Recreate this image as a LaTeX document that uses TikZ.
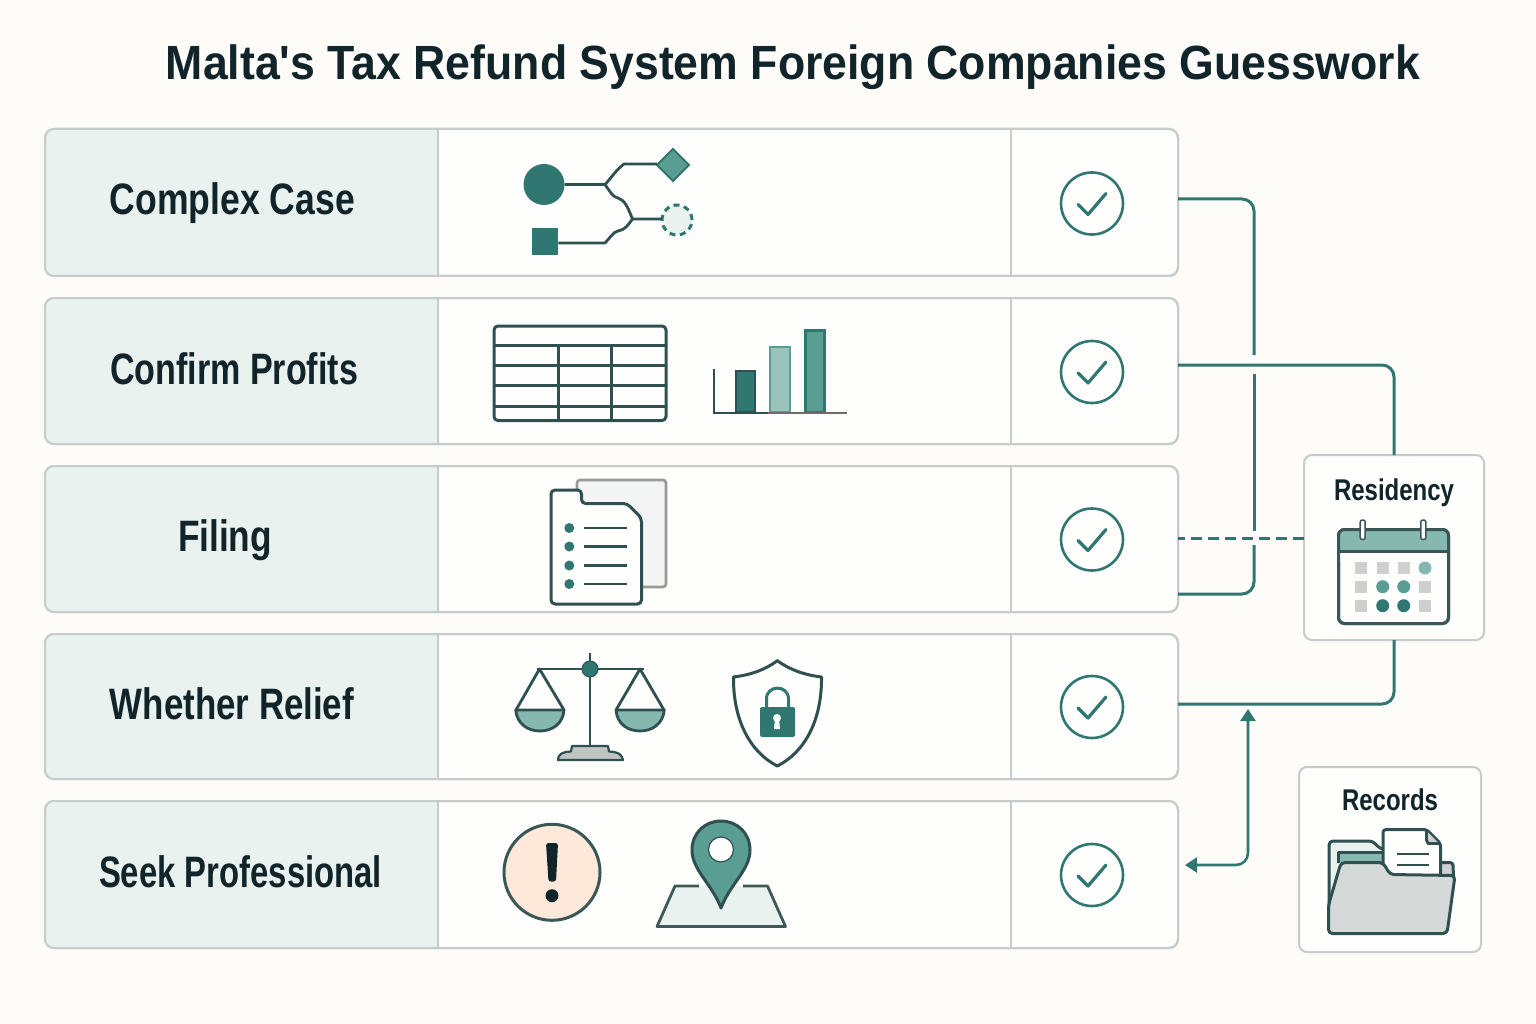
\documentclass[tikz,border=0pt]{standalone}
\usepackage{fontspec}
\usepackage{graphicx}
\usetikzlibrary{arrows.meta,shapes.geometric,calc}
\newfontfamily\hv{Liberation Sans}
\setmainfont{Liberation Sans}
\definecolor{bgc}{HTML}{FDFCF9}
\definecolor{cellc}{HTML}{FEFEFC}
\definecolor{mintc}{HTML}{E9F2EF}
\definecolor{edgec}{HTML}{C6CCCA}
\definecolor{tealc}{HTML}{2F7770}
\definecolor{midc}{HTML}{5A9E93}
\definecolor{lightc}{HTML}{85B9B0}
\definecolor{paleC}{HTML}{9AC4BB}
\definecolor{inkc}{HTML}{2F4F50}
\definecolor{textc}{HTML}{10242A}
\definecolor{grayc}{HTML}{CDD0CE}
\definecolor{peachc}{HTML}{FDE8D9}
\definecolor{sheetc}{HTML}{F3F5F4}
\tikzset{
  rowbox/.style={draw=edgec,line width=2pt,fill=cellc,rounded corners=9pt,minimum width=1133pt,inner sep=0pt,outer sep=0pt},
  sidebox/.style={draw=edgec,line width=2pt,fill=cellc,rounded corners=8pt,inner sep=0pt,outer sep=0pt},
  rowlabel/.style={font=\hv\bfseries\fontsize{44}{44}\selectfont,text=textc,anchor=base,inner sep=0pt},
  sidelabel/.style={font=\hv\bfseries\fontsize{30}{30}\selectfont,text=textc,anchor=base,inner sep=0pt},
  titlelabel/.style={font=\hv\bfseries\fontsize{48}{48}\selectfont,text=textc,anchor=base,inner sep=0pt},
  divider/.style={draw=edgec,line width=2pt},
  link/.style={draw=tealc,line width=3pt,rounded corners=12pt},
  tipped/.style={draw=tealc,line width=2.6pt,rounded corners=12pt,{Triangle[length=12pt,width=15pt]}-{Triangle[length=12pt,width=15pt]}},
  checkring/.style={circle,draw=tealc,line width=2.6pt,fill=cellc,minimum size=62pt,inner sep=0pt},
  checkmark/.style={draw=tealc,line width=3.2pt,line cap=round,line join=round},
  ink/.style={draw=inkc,line width=3pt,line join=round},
  wire/.style={draw=inkc,line width=2.8pt,line join=round},
  gnode/.style={inner sep=0pt,outer sep=0pt}
}
\begin{document}
\begin{tikzpicture}[x=1pt,y=-1pt]
\useasboundingbox (0,0) rectangle (1536,1024);
\fill[bgc] (0,0) rectangle (1536,1024);

% title
\node[titlelabel] (title) at (793,80) {\resizebox{1254pt}{\height}{Malta's Tax Refund System Foreign Companies Guesswork}};

% rows
\foreach \n/\yc/\h in {r1/202.5/147,r2/371/146,r3/539/146,r4/706.5/145,r5/874.5/147}{
  \node[rowbox,minimum height=\h pt] (\n) at (611.5,\yc) {};
  \begin{scope}
    \clip[rounded corners=9pt] (\n.north west) rectangle (\n.south east);
    \fill[mintc] (\n.north west) rectangle (\n.south west -| 437.5,0);
  \end{scope}
  \draw[rowbox,fill=none] (\n.north west) rectangle (\n.south east);
  \draw[divider] (\n.north west -| 437.5,0) -- (\n.south west -| 437.5,0);
  \draw[divider] (\n.north west -| 1010.5,0) -- (\n.south west -| 1010.5,0);
}
\node[rowlabel] (l1) at (232.5,215) {\resizebox{245pt}{\height}{Complex Case}};
\node[rowlabel] (l2) at (234,384) {\resizebox{248pt}{\height}{Confirm Profits}};
\node[rowlabel] (l3) at (225,551) {\resizebox{94pt}{\height}{Filing}};
\node[rowlabel] (l4) at (232,719) {\resizebox{244pt}{\height}{Whether Relief}};
\node[rowlabel] (l5) at (240.5,887) {\resizebox{283pt}{\height}{Seek Professional}};

% check marks
\foreach \n/\yc in {c1/203.5,c2/372,c3/539.5,c4/707,c5/875}{
  \node[checkring] (\n) at (1092,\yc) {};
  \draw[checkmark] ([shift={(-14,1)}]\n.center) -- ([shift={(-4,11)}]\n.center) -- ([shift={(14,-10)}]\n.center);
}

% side boxes
\node[sidebox,minimum width=180pt,minimum height=185pt] (res) at (1394,547.5) {};
\node[sidebox,minimum width=182pt,minimum height=185pt] (rec) at (1390,859.5) {};
\node[sidelabel] (reslab) at (1394,500) {\resizebox{120pt}{\height}{Residency}};
\node[sidelabel] (reclab) at (1390,810) {\resizebox{96pt}{\height}{Records}};

% connectors
\coordinate (j1) at (1254,199);
\coordinate (v1) at (1254,355);
\coordinate (v2) at (1254,374);
\coordinate (v3) at (1254,531);
\coordinate (v4) at (1254,545);
\coordinate (j2) at (1254,594);
\coordinate (j3) at (1394,365);
\coordinate (j4) at (1394,704);
\coordinate (d1) at (1178,538);
\coordinate (a1) at (1248,709);
\coordinate (a2) at (1185,865);
\coordinate (a3) at (1248,865);
\draw[link] (r1.east |- j1) -- (j1) -- (v1);
\draw[link] (v2) -- (v3);
\draw[link] (v4) -- (j2) -- (r3.east |- j2);
\draw[link] (r2.east |- j3) -- (j3) -- (res.north -| j3);
\draw[link] (res.south -| j4) -- (j4) -- (r4.east |- j4);
\draw[link,dash pattern=on 11pt off 6pt] (res.west |- d1) -- (d1);
\draw[tipped] (a1) -- (a3) -- (a2);

% --- row 1 icon
\node[gnode,circle,fill=tealc,minimum size=41pt] (gc) at (544,184.5) {};
\node[gnode,diamond,fill=midc,draw=tealc,line width=2pt,minimum size=32pt] (gd) at (673,165) {};
\node[gnode,circle,fill=mintc,draw=tealc,line width=3pt,dash pattern=on 6pt off 4.5pt,minimum size=30pt] (gh) at (677,220) {};
\node[gnode,rectangle,fill=tealc,minimum size=26.5pt] (gs) at (545,241.5) {};
\coordinate (b1) at (605,184.5);
\coordinate (b2) at (632.5,219);
\draw[wire] (gc.east) -- (b1) .. controls (612,177) and (616,170) .. (624,164) -- (gd.west |- 0,164);
\draw[wire] (b1) .. controls (611,193) and (613,197) .. (618,198) .. controls (625,200) and (628,208) .. (b2) -- (gh.west |- b2);
\draw[wire] (gs.east |- 0,243) -- (605,243) .. controls (610,238) and (613,232) .. (618,231) .. controls (625,230) and (628,225) .. (b2);

% --- row 2 icons
\draw[ink,rounded corners=4pt] (494,326) rectangle (666,420.5);
\foreach \yy in {345,365,385.5,406}{\draw[ink] (494,\yy) -- (666,\yy);}
\foreach \xx in {558.5,611.5}{\draw[ink] (\xx,345) -- (\xx,420.5);}
\draw[fill=tealc,draw=inkc,line width=2pt] (735.5,371) rectangle (755,412);
\draw[fill=paleC,draw=midc,line width=2pt] (770,347) rectangle (790,412);
\draw[fill=midc,draw=tealc,line width=2.6pt] (805.5,330.5) rectangle (824.5,412);
\draw[draw=gray!85!black,line width=2.4pt] (768,413) -- (847,413);
\draw[draw=inkc,line width=2.6pt] (714,369) -- (714,413) -- (768,413);

% --- row 3 icon
\draw[fill=sheetc,draw=gray!80!cellc,line width=2.6pt,rounded corners=3pt] (577,480) rectangle (666,587);
\draw[ink,fill=cellc,rounded corners=4pt] (551,490) -- (581.5,490) -- (581.5,503.5) -- (627,503.5) -- (641.5,518) -- (641.5,604) -- (551,604) -- cycle;
\foreach \yy in {528,546.5,565.5,584}{
  \fill[tealc] (569.3,\yy) circle[radius=5pt];
  \draw[wire] (584,\yy) -- (626.5,\yy);
}

% --- row 4 icons
\draw[wire] (590,653) -- (590,746);
\draw[wire] (536.5,669) -- (643.5,669);
\draw[wire] (516,710) -- (539.5,669) -- (564,710);
\draw[wire] (616,710) -- (640,669) -- (664,710);
\fill[tealc,draw=inkc,line width=1pt] (590,669) circle[radius=8pt];
\draw[wire,fill=lightc] (515.7,710) .. controls (517,724) and (528,731) .. (539.8,731) .. controls (552,731) and (563,724) .. (564,710) -- cycle;
\draw[wire,fill=lightc] (616,710) .. controls (617,724) and (628,731) .. (640,731) .. controls (652,731) and (663,724) .. (664.3,710) -- cycle;
\draw[draw=inkc,line width=2.2pt,fill=grayc!85!gray,line join=round] (558,760) .. controls (558,755) and (561,752) .. (571,751.5) -- (572,746) -- (608,746) -- (609,751.5) .. controls (619,752) and (622,755) .. (623,760) -- cycle;
% shield
\draw[ink,fill=cellc] (777.3,660.7) .. controls (765,670) and (750,675) .. (733.5,677) .. controls (733,720) and (750,752) .. (777.3,766) .. controls (805,752) and (822,720) .. (821.5,677) .. controls (805,675) and (790,670) .. (777.3,660.7) -- cycle;
\draw[draw=tealc,line width=3pt] (766.5,708) -- (766.5,699) .. controls (766.5,684.5) and (788.5,684.5) .. (788.5,699) -- (788.5,708);
\fill[tealc,rounded corners=2pt] (760,707) rectangle (795,737);
\fill[cellc] (777,718) circle[radius=4pt];
\fill[cellc] (775,719) -- (779,719) -- (780,729) -- (774,729) -- cycle;

% --- row 5 icons
\draw[draw=inkc!85!gray,line width=3pt,fill=peachc] (552,872.3) circle[radius=48pt];
\fill[textc,rounded corners=2.5pt] (546,843) -- (558,843) -- (556,881.5) -- (548.5,881.5) -- cycle;
\fill[textc] (552,895.7) circle[radius=6.5pt];
\fill[mintc] (675,886) -- (767.5,886) -- (785.5,926.5) -- (657,926.5) -- cycle;
\draw[draw=inkc!80!gray,line width=2.8pt,line join=round] (699,886) -- (675,886) -- (657,926.5) -- (785.5,926.5) -- (767.5,886) -- (743,886);
\draw[ink,fill=midc] (721,908) .. controls (712,884) and (692,870) .. (692,850) .. controls (692,833) and (705,821) .. (721,821) .. controls (737,821) and (750,833) .. (750,850) .. controls (750,870) and (730,884) .. (721,908) -- cycle;
\draw[draw=inkc,line width=1.2pt,fill=cellc] (721,849.5) circle[radius=12.5pt];

% --- calendar
\draw[draw=inkc!85!gray,line width=3pt,fill=cellc,rounded corners=6pt] (1338.5,529.5) rectangle (1448.5,623.5);
\fill[lightc,rounded corners=6pt] (1339.5,530.5) rectangle (1447.5,560);
\fill[cellc] (1339.5,552) rectangle (1447.5,562);
\draw[draw=inkc!85!gray,line width=3pt] (1338.5,551.5) -- (1448.5,551.5);
\draw[draw=inkc!85!gray,line width=3pt,rounded corners=6pt] (1338.5,529.5) rectangle (1448.5,623.5);
\foreach \xx in {1362.7,1423.3}{
  \draw[draw=inkc!85!gray,line width=1.5pt,fill=cellc,rounded corners=2pt] (\xx-2.5,520) rectangle (\xx+2.5,539.5);
}
\foreach \xx/\yy in {1361.3/568,1382.7/568,1403.7/568,1361.3/586.7,1425/586.7,1361.3/605.7,1425/605.7}{
  \fill[grayc] (\xx-6,\yy-6) rectangle (\xx+6,\yy+6);
}
\fill[lightc] (1425,568) circle[radius=6.5pt];
\fill[midc] (1382.7,586.7) circle[radius=6.5pt];
\fill[midc] (1403.7,586.7) circle[radius=6.5pt];
\fill[tealc] (1382.7,605.7) circle[radius=6.5pt];
\fill[tealc] (1403.7,605.7) circle[radius=6.5pt];

% --- folder
\draw[ink,fill=mintc,rounded corners=4pt] (1329,925) -- (1329,841) -- (1373,841) -- (1380,849) -- (1400,849) -- (1400,870) -- (1329,900);
\draw[ink,fill=lightc] (1338.5,863) -- (1338.5,852.5) -- (1390,852.5) -- (1390,863);
\draw[ink,fill=grayc,rounded corners=3pt] (1430,862.5) -- (1453,862.5) -- (1453.5,880) -- (1430,880) -- cycle;
\draw[ink,fill=cellc,rounded corners=3pt] (1383,880) -- (1383,829.5) -- (1426.5,829.5) -- (1440.5,843.5) -- (1440.5,880) -- cycle;
\fill[grayc] (1426.5,831) -- (1439,843.5) -- (1427,843.5) -- cycle;
\draw[wire] (1426.5,829.5) -- (1426.5,840) -- (1428,843.5) -- (1440.5,843.5);
\draw[wire] (1396.5,854) -- (1428.5,854);
\draw[wire] (1396.5,865) -- (1428.5,865);
\draw[ink,fill=grayc!70!mintc,rounded corners=4pt] (1341,862.5) -- (1383,862.5) -- (1390,874.5) -- (1455,875.5) -- (1447,933.5) -- (1328.5,933.5) -- (1328.5,905) -- cycle;
\end{tikzpicture}
\end{document}
